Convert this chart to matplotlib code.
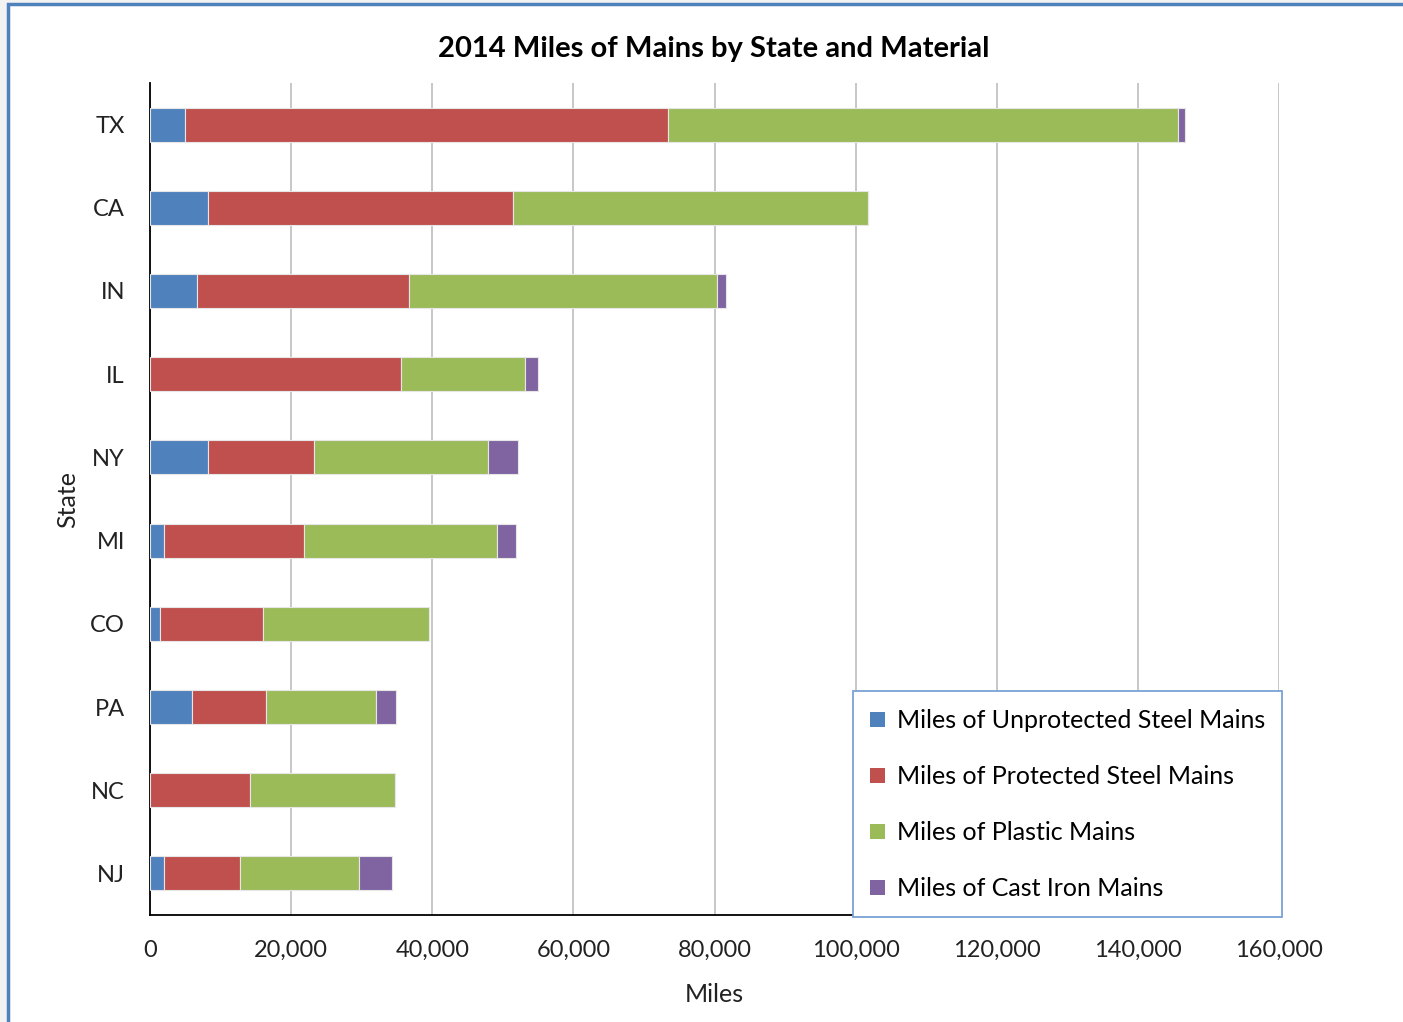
import numpy as np
import matplotlib.pyplot as plt
from matplotlib.patches import Rectangle
from matplotlib.ticker import FuncFormatter

plt.rcParams['font.family'] = ['Lato', 'DejaVu Sans']

# Miles of gas mains in 2014, by state and material
states = ["TX", "CA", "IN", "IL", "NY", "MI", "CO", "PA", "NC", "NJ"]
unprotected = [5000, 8200, 6700, 0, 8200, 2000, 1400, 5950, 0, 2000]
protected = [68400, 43250, 30000, 35600, 15050, 19850, 14600, 10500, 14150, 10750]
plastic = [72300, 50300, 43650, 17600, 24650, 27350, 23550, 15600, 20550, 16850]
cast_iron = [1000, 0, 1300, 1850, 4250, 2700, 0, 2800, 0, 4700]

series = [
    ("Miles of Unprotected Steel Mains", unprotected, "#4F81BD"),
    ("Miles of Protected Steel Mains", protected, "#C0504D"),
    ("Miles of Plastic Mains", plastic, "#9BBB59"),
    ("Miles of Cast Iron Mains", cast_iron, "#8064A2"),
]

fig = plt.figure(figsize=(14.03, 10.22), dpi=100)
fig.patch.set_facecolor("#F3F3F3")
# white chart area with a blue frame on the left and top
fig.patches.append(Rectangle((8 / 1403, -0.1), 1.2, 1.1 - 4 / 1022,
                             transform=fig.transFigure, facecolor="white",
                             edgecolor="#4F81BD", linewidth=2.5, zorder=-1))

ax = fig.add_axes([150 / 1403, 1 - 915 / 1022, 1129 / 1403, 832 / 1022])
ax.set_zorder(1)

y = np.arange(len(states))
left = np.zeros(len(states))
for name, vals, color in series:
    vals = np.array(vals, dtype=float)
    ax.barh(y, vals, left=left, height=0.41, color=color, label=name,
            edgecolor="#E6E6E6", linewidth=0.8, zorder=3)
    left += vals

ax.set_ylim(len(states) - 0.5, -0.5)
ax.set_yticks(y)
ax.set_yticklabels(states)
ax.set_xlim(0, 160000)
ax.set_xticks(np.arange(0, 160001, 20000))
ax.xaxis.set_major_formatter(FuncFormatter(lambda v, p: f"{int(v):,}"))
ax.grid(axis="x", color="#BEBEBE", linewidth=1.2, zorder=0)
ax.tick_params(length=0, labelsize=17, colors="#222222")
ax.tick_params(axis="x", pad=18)
ax.tick_params(axis="y", pad=18)

for side in ["top", "right"]:
    ax.spines[side].set_visible(False)
for side in ["left", "bottom"]:
    ax.spines[side].set_color("black")
    ax.spines[side].set_linewidth(1.3)

ax.set_xlabel("Miles", fontsize=18, labelpad=16, color="#222222")
ax.set_ylabel("State", fontsize=18, labelpad=8, color="#222222")
fig.text(714 / 1403, 1 - 49 / 1022, "2014 Miles of Mains by State and Material",
         ha="center", va="center", fontsize=21, fontweight="bold")

leg = ax.legend(loc="lower right", bbox_to_anchor=(1.003, -0.003), fontsize=18,
                frameon=True, fancybox=False, handlelength=0.6, handleheight=0.55,
                labelspacing=1.32, borderpad=0.7, handletextpad=0.45,
                borderaxespad=0)
leg.get_frame().set_edgecolor("#7BA3D6")
leg.get_frame().set_linewidth(1.3)
leg.get_frame().set_alpha(1)
for h in leg.legend_handles:
    h.set_edgecolor("none")

fig.savefig("out.png", dpi=100)
